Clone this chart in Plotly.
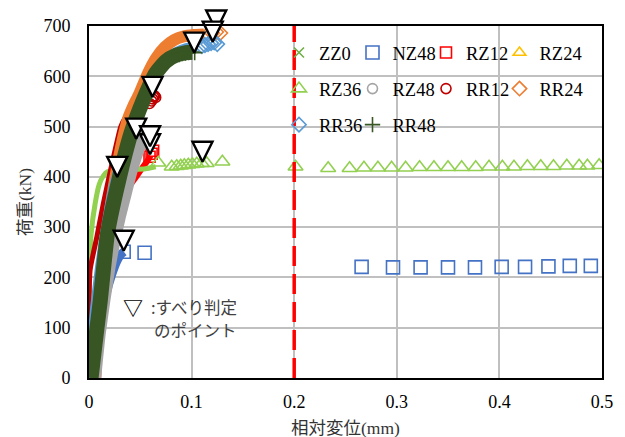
import plotly.graph_objects as go

# ---------------- data ----------------
SERIES = ["ZZ0", "NZ48", "RZ12", "RZ24", "RZ36", "RZ48", "RR12", "RR24", "RR36", "RR48"]

# dense (continuous) part of each record: displacement (mm), load (kN)
ZZ0_BAND_X = [0.002, 0.007, 0.012, 0.018, 0.023, 0.028]
ZZ0_BAND_Y = [0, 100, 200, 290, 350, 400]
ZZ0_PTS_X = [0.026, 0.028]
ZZ0_PTS_Y = [385, 400]

NZ48_BAND_X = [0.002, 0.007, 0.012, 0.017, 0.022, 0.027, 0.031, 0.034]
NZ48_BAND_Y = [0, 60, 120, 170, 205, 232, 246, 251]
NZ48_PTS_X = [0.0338, 0.0542, 0.2657, 0.2963, 0.3232, 0.3499, 0.3762, 0.4022, 0.4250, 0.4478, 0.4686, 0.4891]
NZ48_PTS_Y = [251, 249, 221, 220, 220, 220, 220, 221, 221, 222, 223, 223]

RZ12_BAND_X = [0.009, 0.010, 0.012, 0.015, 0.020, 0.026, 0.032, 0.039, 0.046, 0.052, 0.057, 0.060]
RZ12_BAND_Y = [0, 50, 110, 170, 235, 295, 345, 380, 400, 418, 432, 442]
RZ12_PTS_X = [0.059, 0.061, 0.0625]
RZ12_PTS_Y = [440, 446, 452]

RZ24_BAND_X = [0.004, 0.009, 0.014, 0.020, 0.027, 0.035, 0.042, 0.046]
RZ24_BAND_Y = [0, 90, 180, 270, 350, 415, 455, 474]
RZ24_PTS_X = [0.046, 0.048]
RZ24_PTS_Y = [474, 477]

RZ36_BAND_X = [0.0, 0.0003, 0.0006, 0.002, 0.006, 0.010, 0.014, 0.018, 0.025, 0.040, 0.055, 0.065]
RZ36_BAND_Y = [0, 100, 214, 285, 347, 385, 402, 410, 412, 414, 416, 420]
RZ36_PTS_X = [0.0675, 0.0806, 0.0855, 0.0894, 0.0929, 0.0968, 0.1007, 0.1050, 0.1099, 0.1147, 0.1300,
              0.2013, 0.2331, 0.2540, 0.2680, 0.2816, 0.2949, 0.3086, 0.3222, 0.3362, 0.3499, 0.3632,
              0.3769, 0.3899, 0.4029, 0.4142, 0.4273, 0.4403, 0.4527, 0.4657, 0.4777, 0.4858, 0.4972]
RZ36_PTS_Y = [428, 420, 421, 422, 423, 424, 425, 426, 427, 427, 430,
              420, 417, 417, 418, 418, 418, 418, 419, 419, 419, 419,
              419, 420, 420, 420, 421, 421, 421, 422, 422, 422, 423]

RZ48_BAND_X = [0.005, 0.0095, 0.014, 0.019, 0.024, 0.029, 0.035, 0.040, 0.046, 0.051, 0.056]
RZ48_BAND_Y = [0, 88, 154, 220, 274, 320, 368, 408, 447, 470, 480]
RZ48_PTS_X = [0.055, 0.057]
RZ48_PTS_Y = [478, 480]

RR12_BAND_X = [-0.0005, -0.0003, 0.001, 0.0076, 0.014, 0.021, 0.031, 0.036, 0.042, 0.050, 0.056, 0.060]
RR12_BAND_Y = [0, 100, 214, 280, 347, 413, 500, 520, 535, 546, 552, 556]
RR12_PTS_X = [0.059, 0.061, 0.062, 0.063, 0.064, 0.065]
RR12_PTS_Y = [546, 551, 555, 559, 561, 558]

RR24_BAND_X = [0.003, 0.007, 0.011, 0.016, 0.021, 0.027, 0.033, 0.038, 0.043, 0.049, 0.0575, 0.065, 0.074, 0.083, 0.092, 0.102, 0.112]
RR24_BAND_Y = [0, 80, 165, 260, 340, 414, 475, 515, 540, 565, 606, 635, 658, 672, 679, 682, 683]
RR24_PTS_X = [0.116, 0.120, 0.124, 0.128]
RR24_PTS_Y = [684, 686, 688, 686]

RR36_BAND_X = [0.0, 0.003, 0.006, 0.011, 0.017, 0.024, 0.034, 0.045, 0.055, 0.065, 0.075, 0.085, 0.095, 0.105]
RR36_BAND_Y = [0, 70, 140, 225, 305, 380, 450, 515, 565, 605, 632, 648, 656, 660]
RR36_PTS_X = [0.110, 0.113, 0.116, 0.119, 0.122, 0.125]
RR36_PTS_Y = [660, 662, 664, 666, 667, 664]

RR48_BAND_X = [0.002, 0.006, 0.011, 0.018, 0.029, 0.041, 0.053, 0.065, 0.075, 0.085, 0.095, 0.100]
RR48_BAND_Y = [0, 70, 154, 287, 393, 487, 553, 606, 630, 642, 647, 648]
RR48_PTS_X = [0.088, 0.091, 0.094, 0.097, 0.100, 0.103]
RR48_PTS_Y = [643, 645, 646, 647, 648, 647]

# slip-judgement points (すべり判定のポイント)
SLIP_X = [0.0275, 0.0338, 0.0595, 0.046, 0.1106, 0.0595, 0.0619, 0.124, 0.1206, 0.1026]
SLIP_Y = [400, 253, 445, 476, 430, 461, 559, 691, 669, 647]

LIMIT_X = [0.2, 0.2]
LIMIT_Y = [0, 700]

X_TICKS = [0, 0.1, 0.2, 0.3, 0.4, 0.5]
Y_TICKS = [0, 100, 200, 300, 400, 500, 600, 700]

# ---------------- styles ----------------
STYLE = {
    "ZZ0":  dict(color="#70AD47", symbol="x-thin-open", size=10, band=8),
    "NZ48": dict(color="#4472C4", symbol="square-open", size=13, band=9),
    "RZ12": dict(color="#FF0000", symbol="square-open", size=11, band=6),
    "RZ24": dict(color="#FFC000", symbol="triangle-up-open", size=11, band=8),
    "RZ36": dict(color="#92D050", symbol="triangle-up-open", size=13, band=5),
    "RZ48": dict(color="#A5A5A5", symbol="circle-open", size=10, band=14),
    "RR12": dict(color="#C00000", symbol="circle-open", size=10, band=5),
    "RR24": dict(color="#ED7D31", symbol="diamond-open", size=11, band=12),
    "RR36": dict(color="#5B9BD5", symbol="diamond-open", size=11, band=10),
    "RR48": dict(color="#375623", symbol="cross-thin-open", size=11, band=15),
}
DATA = {
    "ZZ0": (ZZ0_BAND_X, ZZ0_BAND_Y, ZZ0_PTS_X, ZZ0_PTS_Y),
    "NZ48": (NZ48_BAND_X, NZ48_BAND_Y, NZ48_PTS_X, NZ48_PTS_Y),
    "RZ12": (RZ12_BAND_X, RZ12_BAND_Y, RZ12_PTS_X, RZ12_PTS_Y),
    "RZ24": (RZ24_BAND_X, RZ24_BAND_Y, RZ24_PTS_X, RZ24_PTS_Y),
    "RZ36": (RZ36_BAND_X, RZ36_BAND_Y, RZ36_PTS_X, RZ36_PTS_Y),
    "RZ48": (RZ48_BAND_X, RZ48_BAND_Y, RZ48_PTS_X, RZ48_PTS_Y),
    "RR12": (RR12_BAND_X, RR12_BAND_Y, RR12_PTS_X, RR12_PTS_Y),
    "RR24": (RR24_BAND_X, RR24_BAND_Y, RR24_PTS_X, RR24_PTS_Y),
    "RR36": (RR36_BAND_X, RR36_BAND_Y, RR36_PTS_X, RR36_PTS_Y),
    "RR48": (RR48_BAND_X, RR48_BAND_Y, RR48_PTS_X, RR48_PTS_Y),
}
# legend is laid out as four columns (one plotly legend per column)
COLUMNS = ["legend", "legend2", "legend3", "legend4"]

SERIF = "Liberation Serif, Times New Roman, serif"
CJK = "Noto Sans CJK JP, sans-serif"
MIXED = "Liberation Serif, Noto Sans CJK JP, serif"

fig = go.Figure()
for i, name in enumerate(SERIES):
    bx, by, px, py = DATA[name]
    st = STYLE[name]
    fig.add_trace(go.Scatter(
        x=bx, y=by, mode="lines", showlegend=False, hoverinfo="skip",
        line=dict(color=st["color"], width=st["band"], shape="spline", smoothing=0.5),
    ))
    fig.add_trace(go.Scatter(
        x=px, y=py, mode="markers", name=name, legend=COLUMNS[i % 4], legendgroup=name,
        marker=dict(symbol=st["symbol"], size=st["size"], color=st["color"],
                    line=dict(color=st["color"], width=1.6)),
    ))

fig.add_trace(go.Scatter(
    x=LIMIT_X, y=LIMIT_Y, mode="lines", showlegend=False, hoverinfo="skip",
    line=dict(color="#FF0000", width=3.5, dash="20px,8px"),
))

fig.add_trace(go.Scatter(
    x=SLIP_X, y=SLIP_Y, mode="markers", showlegend=False, cliponaxis=False,
    marker=dict(symbol="arrow-down", size=20, color="white",
                line=dict(color="black", width=2.4)),
))

# plot area: x 89..602, y 26..378 px
L, R, T, B = 89, 23, 26, 59
PW, PH = 625 - L - R, 437 - T - B


def px_x(p):
    return (p - L) / PW


def px_y(p):
    return (437 - B - p) / PH


legend_common = dict(
    orientation="v", xanchor="left", yanchor="top", y=px_y(34),
    bgcolor="rgba(0,0,0,0)", font=dict(family=SERIF, size=18.5, color="black"),
    tracegroupgap=9, itemclick=False, itemdoubleclick=False,
)
COL_TEXT_X = [319, 392.5, 466, 539.5]

fig.update_layout(
    width=625, height=437,
    margin=dict(l=L, r=R, t=T, b=B, pad=0),
    paper_bgcolor="white", plot_bgcolor="white",
    font=dict(family=SERIF, size=18, color="black"),
    legend=dict(x=px_x(COL_TEXT_X[0] - 40), **legend_common),
    legend2=dict(x=px_x(COL_TEXT_X[1] - 40), **legend_common),
    legend3=dict(x=px_x(COL_TEXT_X[2] - 40), **legend_common),
    legend4=dict(x=px_x(COL_TEXT_X[3] - 40), **legend_common),
    xaxis=dict(range=[0, 0.5], tickvals=X_TICKS, ticktext=[f"{v:g}" for v in X_TICKS],
               showgrid=True, gridcolor="#C0C0C0", gridwidth=1.8, zeroline=False,
               showline=True, linecolor="black", linewidth=2, mirror=True,
               ticks="", ticklabelstandoff=6,
               tickfont=dict(family=SERIF, size=18, color="black")),
    yaxis=dict(range=[0, 700], tickvals=Y_TICKS,
               showgrid=True, gridcolor="#C0C0C0", gridwidth=1.8, zeroline=False,
               showline=True, linecolor="black", linewidth=2, mirror=True,
               ticks="", ticklabelstandoff=13,
               tickfont=dict(family=SERIF, size=18, color="black")),
    shapes=[
        dict(type="rect", xref="paper", yref="paper", layer="between",
             x0=px_x(293), x1=px_x(593), y0=px_y(145), y1=px_y(33),
             fillcolor="white", line=dict(width=0)),
        dict(type="rect", xref="paper", yref="paper", layer="between",
             x0=px_x(124), x1=px_x(261), y0=px_y(353), y1=px_y(290),
             fillcolor="white", line=dict(width=0)),
    ],
    annotations=[
        dict(text="荷重(kN)", textangle=-90, xref="paper", yref="paper",
             x=px_x(25), y=px_y(202), showarrow=False, xanchor="center", yanchor="middle",
             font=dict(family=MIXED, size=17.5, color="#333333")),
        dict(text="相対変位(mm)", xref="paper", yref="paper",
             x=px_x(345), y=px_y(428), showarrow=False, xanchor="center", yanchor="middle",
             font=dict(family=MIXED, size=17.5, color="#333333")),
        dict(text="<b>▽</b>", xref="paper", yref="paper",
             x=px_x(133), y=px_y(307), showarrow=False, xanchor="center", yanchor="middle",
             font=dict(family=CJK, size=20, color="black")),
        dict(text=":すべり判定", xref="paper", yref="paper",
             x=px_x(239), y=px_y(306.5), showarrow=False, xanchor="right", yanchor="middle",
             font=dict(family=CJK, size=16.5, color="#404040")),
        dict(text="のポイント", xref="paper", yref="paper",
             x=px_x(239), y=px_y(330), showarrow=False, xanchor="right", yanchor="middle",
             font=dict(family=CJK, size=16.5, color="#404040")),
    ],
)

fig.write_html("out.html", config={"displayModeBar": False},
               post_script="document.body.style.margin='0';")
